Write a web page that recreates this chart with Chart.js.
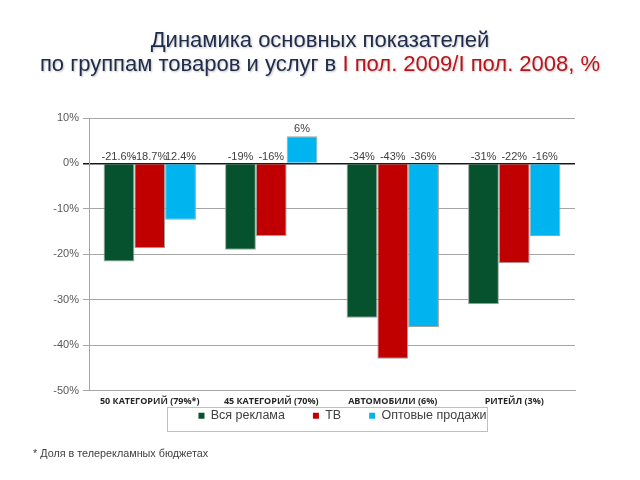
<!DOCTYPE html>
<html><head><meta charset="utf-8">
<script src="https://cdn.jsdelivr.net/npm/chart.js@4/dist/chart.umd.min.js"></script>
<style>
html,body{margin:0;padding:0;background:#fff;}
#wrap{position:relative;width:640px;height:480px;overflow:hidden;}
#c{position:absolute;left:0;top:0;}
#title{position:absolute;left:0;top:28px;width:640px;text-align:center;font-family:"Liberation Sans",Arial,sans-serif;font-size:22px;line-height:24px;color:#1f2b4a;text-shadow:1px 1px 2px rgba(0,0,0,0.25);}
#title .r{color:#b8141c;}
#note{position:absolute;left:33px;top:447px;font-family:"Liberation Sans",Arial,sans-serif;font-size:10.8px;color:#404040;}
</style></head>
<body><div id="wrap">
<canvas id="c" width="640" height="480"></canvas>
<div id="title">Динамика основных показателей<br>по группам товаров и услуг в <span class="r">I пол. 2009/I пол. 2008, %</span></div>
<div id="note">* Доля в телерекламных бюджетах</div>
</div>
<script>
const categories = ["50 КАТЕГОРИЙ (79%*)", "45 КАТЕГОРИЙ (70%)", "АВТОМОБИЛИ (6%)", "РИТЕЙЛ (3%)"];
const seriesNames = ["Вся реклама", "ТВ", "Оптовые продажи"];
const allAds = [-21.6, -19, -34, -31];
const tv = [-18.7, -16, -43, -22];
const wholesale = [-12.4, 6, -36, -16];
const allAdsLabels = ["-21.6%", "-19%", "-34%", "-31%"];
const tvLabels = ["-18.7%", "-16%", "-43%", "-22%"];
const wholesaleLabels = ["12.4%", "6%", "-36%", "-16%"];
const yTicks = [10, 0, -10, -20, -30, -40, -50];

const colors = ["#07522e", "#c00000", "#00b4ef"];
const labelSets = [allAdsLabels, tvLabels, wholesaleLabels];

const labelPlugin = {
  id: 'valLabels',
  afterDatasetsDraw(chart) {
    const ctx = chart.ctx;
    const y0 = chart.scales.y.getPixelForValue(0);
    ctx.save();
    ctx.font = '11px "Liberation Sans", Arial, sans-serif';
    ctx.fillStyle = '#404040';
    ctx.textAlign = 'center';
    ctx.textBaseline = 'alphabetic';
    chart.data.datasets.forEach((ds, i) => {
      const meta = chart.getDatasetMeta(i);
      meta.data.forEach((bar, j) => {
        const v = ds.data[j];
        const y = v >= 0 ? bar.y - 4 : y0 - 3;
        ctx.fillText(labelSets[i][j], bar.x, y);
      });
    });
    ctx.restore();
  }
};

const legendBox = {
  id: 'legendBox',
  afterLayout(chart) {
    const lg = chart.legend;
    if (lg) { lg.left += 35; lg.right += 35; }
  },
  afterDraw(chart) {
    const lg = chart.legend;
    if (!lg || !lg.legendHitBoxes || !lg.legendHitBoxes.length) return;
    const hb = lg.legendHitBoxes;
    const first = hb[0], last = hb[hb.length - 1];
    const ctx = chart.ctx;
    ctx.save();
    ctx.strokeStyle = '#bfbfbf';
    ctx.lineWidth = 1;
    const l = Math.round(first.left - 31) + 0.5;
    const r = Math.round(last.left + last.width) + 0.5;
    const t = Math.round(lg.top - 1) + 0.5;
    const b = t + 24;
    ctx.strokeRect(l, t, r - l, b - t);
    ctx.restore();
  }
};

new Chart(document.getElementById('c'), {
  type: 'bar',
  data: {
    labels: categories,
    datasets: [allAds, tv, wholesale].map((d, i) => ({
      label: seriesNames[i],
      data: d,
      backgroundColor: colors[i],
      borderColor: '#9aa79f',
      borderWidth: 1,
      categoryPercentage: 0.76,
      barPercentage: 1.0
    }))
  },
  options: {
    responsive: false,
    animation: false,
    layout: { padding: { left: 40, right: 65, top: 118, bottom: 48 } },
    plugins: {
      title: { display: false },
      tooltip: { enabled: false },
      legend: {
        position: 'bottom',
        labels: {
          boxWidth: 6, boxHeight: 6, padding: 2,
          color: '#404040',
          font: { family: '"Liberation Sans", Arial, sans-serif', size: 12.5 },
          generateLabels(chart) {
            const n = chart.data.datasets.length;
            return chart.data.datasets.map((ds, i) => ({
              text: ds.label + (i < n - 1 ? '\u2003\u2003\u200A' : ''),
              fillStyle: ds.backgroundColor,
              strokeStyle: ds.backgroundColor,
              lineWidth: 0,
              hidden: false,
              datasetIndex: i,
              fontColor: '#404040'
            }));
          }
        }
      }
    },
    scales: {
      x: {
        grid: { display: false, drawTicks: false },
        border: { display: true, color: '#a6a6a6' },
        ticks: {
          color: '#262626', maxRotation: 0, padding: 6,
          font: { family: '"Open Sans", sans-serif', size: 9, weight: 'bold' }
        },
        afterFit(s) { s.height = 17; }
      },
      y: {
        min: -50, max: 10,
        afterBuildTicks(s) { s.ticks = yTicks.map(v => ({ value: v })); },
        grid: {
          color: ctx => ctx.tick && ctx.tick.value === 0 ? '#1a1a1a' : '#a6a6a6',
          lineWidth: ctx => ctx.tick && ctx.tick.value === 0 ? 1.5 : 1,
          tickLength: 6
        },
        border: { display: true, color: '#a6a6a6' },
        ticks: {
          color: '#595959', padding: 4,
          font: { family: '"Liberation Sans", Arial, sans-serif', size: 11 },
          callback: v => v + '%'
        },
        afterFit(s) { s.width = 49; }
      }
    }
  },
  plugins: [labelPlugin, legendBox]
});
</script>
</body></html>
